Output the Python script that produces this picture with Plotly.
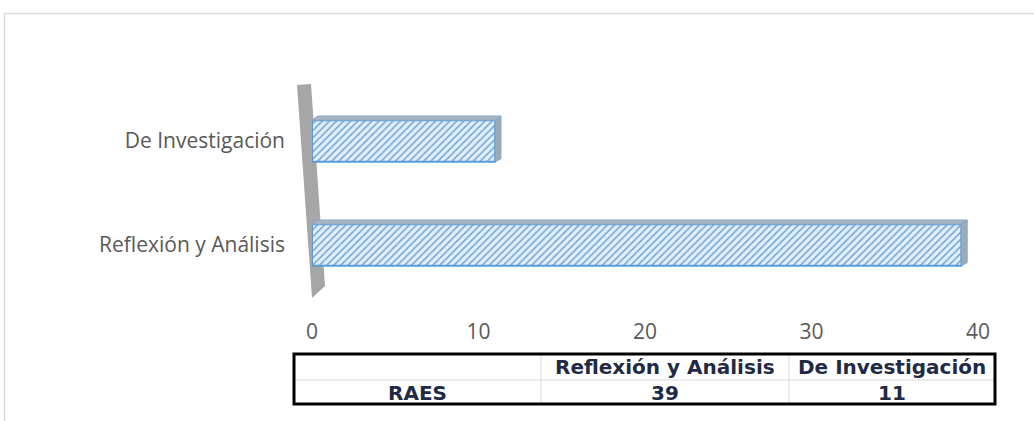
import plotly.graph_objects as go

categories = ["Reflexión y Análisis", "De Investigación"]
values = [39, 11]
table_row_label = "RAES"
x_ticks = [0, 10, 20, 30, 40]

W, H = 1034, 421
L, R, T, B = 312, 978, 89, 297


def px_x(p):
    return (p - L) / (R - L)


def px_y(p):
    return (B - p) / (B - T)


fig = go.Figure()
fig.add_trace(go.Bar(
    y=categories, x=values, orientation="h", width=0.4,
    marker=dict(
        color="#DDEBF7",
        line=dict(color="#5B9BD5", width=2),
        pattern=dict(shape="/", fgcolor="#6FA6DA", bgcolor="#E3EEF9",
                     size=5, solidity=0.3, fillmode="replace"),
    ),
    hoverinfo="skip", showlegend=False,
))

shapes = []
# 3D top and side faces computed from values
for i, v in enumerate(values):
    top = i + 0.2
    shapes.append(dict(
        type="path", xref="x", yref="y", layer="above",
        path=f"M 0,{top} L {v},{top} L {v + 0.35},{top + 0.04} L 0.35,{top + 0.04} Z",
        fillcolor="#A9B4C0", line=dict(color="#7FA7D3", width=1),
    ))
    shapes.append(dict(
        type="path", xref="x", yref="y", layer="above",
        path=f"M {v},{top} L {v + 0.35},{top + 0.04} L {v + 0.35},{i - 0.17} L {v},{i - 0.2} Z",
        fillcolor="#9EA9B5", line=dict(color="#7FA7D3", width=1),
    ))

# gray wall (decoration)
shapes.append(dict(
    type="path", xref="paper", yref="paper", layer="below",
    path=(f"M {px_x(297)},{px_y(85)} L {px_x(311)},{px_y(84)} "
          f"L {px_x(325)},{px_y(286)} L {px_x(312)},{px_y(298)} Z"),
    fillcolor="#A6A6A6", line=dict(width=0),
))

# outer light border
shapes.append(dict(
    type="path", xref="paper", yref="paper", layer="below",
    path=f"M {px_x(4.5)},{px_y(430)} L {px_x(4.5)},{px_y(13.5)} L {px_x(1040)},{px_y(13.5)}",
    line=dict(color="#D9D9D9", width=1.5),
))

# data table
tx0, tx1, ty0, ty1 = 294, 995, 354, 404
c1, c2, rmid = 541, 789, 380
for (a, b, c, d) in [(c1, ty0, c1, ty1), (c2, ty0, c2, ty1), (tx0, rmid, tx1, rmid)]:
    shapes.append(dict(type="line", xref="paper", yref="paper",
                       x0=px_x(a), y0=px_y(b), x1=px_x(c), y1=px_y(d),
                       line=dict(color="#D9D9D9", width=1)))
shapes.append(dict(type="rect", xref="paper", yref="paper",
                   x0=px_x(tx0), y0=px_y(ty0), x1=px_x(tx1), y1=px_y(ty1),
                   line=dict(color="#000000", width=3)))

tfont = dict(family="DejaVu Sans", size=20, color="#1F2A44", weight="bold")
annotations = []
centers = [(c1 + c2) / 2, (c2 + tx1) / 2]
for cx, cat, v in zip(centers, categories, values):
    annotations.append(dict(text=cat, x=px_x(cx), y=px_y(367), xref="paper", yref="paper",
                            showarrow=False, font=tfont, xanchor="center", yanchor="middle"))
    annotations.append(dict(text=str(v), x=px_x(cx), y=px_y(393), xref="paper", yref="paper",
                            showarrow=False, font=tfont, xanchor="center", yanchor="middle"))
annotations.append(dict(text=table_row_label, x=px_x((tx0 + c1) / 2), y=px_y(393),
                        xref="paper", yref="paper", showarrow=False, font=tfont,
                        xanchor="center", yanchor="middle"))

fig.update_layout(
    width=W, height=H,
    margin=dict(l=L, r=W - R, t=T, b=H - B),
    paper_bgcolor="white", plot_bgcolor="white",
    font=dict(family="Open Sans", size=21, color="#595959"),
    xaxis=dict(range=[0, 40], tickvals=x_ticks, showgrid=False, zeroline=False,
               showline=False, ticklabelstandoff=20, fixedrange=True),
    yaxis=dict(range=[-0.5, 1.5], showgrid=False, zeroline=False, showline=False,
               ticklabelstandoff=26, fixedrange=True),
    shapes=shapes, annotations=annotations,
)

fig.write_html("out.html", config={"displayModeBar": False},
               post_script="document.body.style.margin='0';document.body.style.overflow='hidden';")
